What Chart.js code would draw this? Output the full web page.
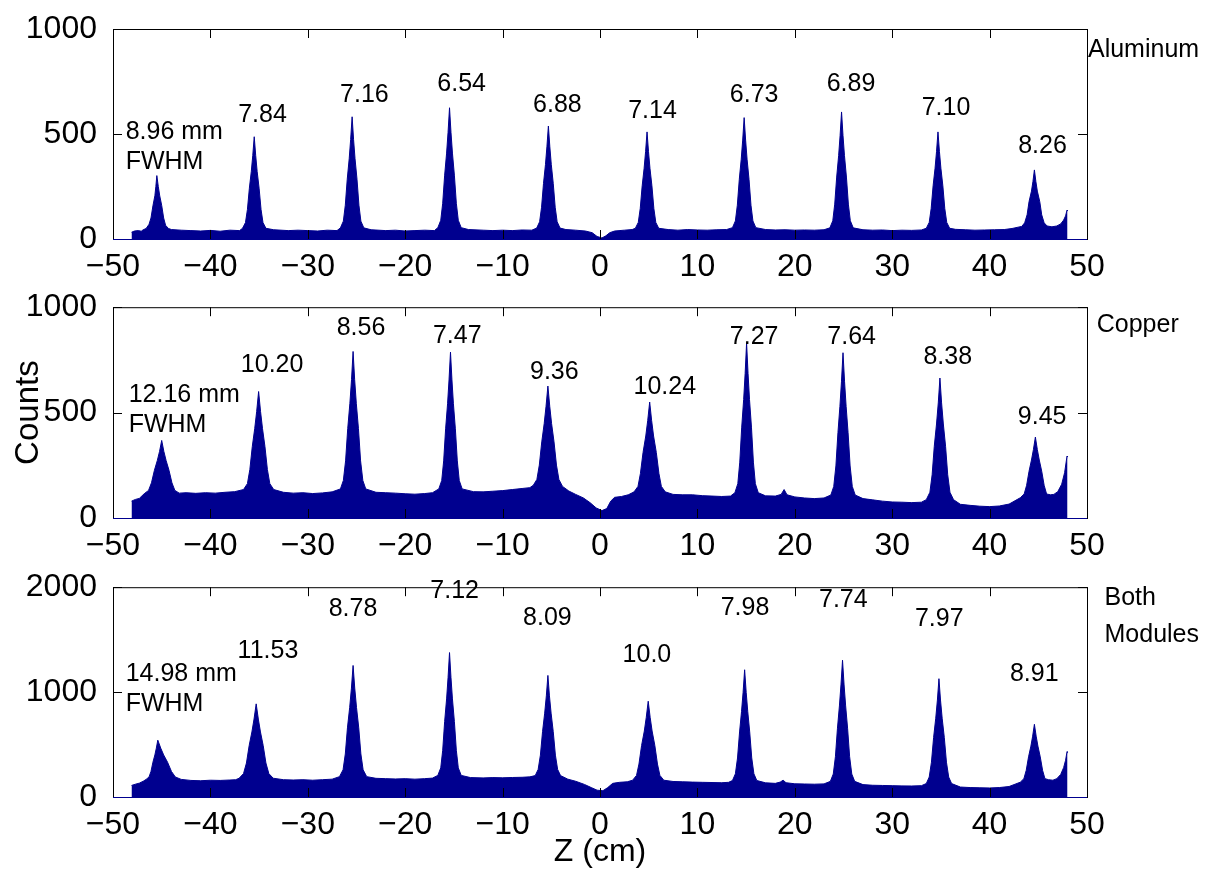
<!DOCTYPE html>
<html>
<head>
<meta charset="utf-8">
<script src="https://cdn.jsdelivr.net/npm/chart.js@4.4.1/dist/chart.umd.min.js"></script>
<style>
  body { margin: 0; background: #fff; width: 1207px; height: 871px; position: relative; overflow: hidden; }
  canvas { position: absolute; left: 0; }
</style>
</head>
<body>
<canvas id="al" width="1207" height="280" style="top:0px"></canvas>
<canvas id="cu" width="1207" height="280" style="top:280px"></canvas>
<canvas id="both" width="1207" height="311" style="top:560px"></canvas>
<script>
// ==========================
// DATA
// ==========================

// Aluminum: z position (cm) and counts
const alZ = [
  -48.1,-47.8,-47.4,-47.1,-46.9,-46.6,-46.3,-46.1,-45.9,-45.7,-45.6,-45.5,-45.35,-45.2,-45.0,-44.8,-44.6,-44.3,-44.0,
  -43,-42,-41,-40,-39,-38,-37,
  -36.7,-36.4,-36.2,-36.0,-35.8,-35.65,-35.5,-35.35,-35.2,-35.0,-34.8,-34.6,-34.3,
  -33.5,-32,-31,-30,-29,-28,-27,
  -26.65,-26.35,-26.15,-25.95,-25.75,-25.6,-25.45,-25.3,-25.15,-24.95,-24.75,-24.55,-24.25,
  -23.5,-22,-21,-20,-19,-18,-17,
  -16.65,-16.35,-16.15,-15.95,-15.75,-15.6,-15.45,-15.3,-15.15,-14.95,-14.75,-14.55,-14.25,
  -13.5,-12,-11,-10,-9,-8,-7,
  -6.5,-6.2,-6.0,-5.8,-5.6,-5.45,-5.3,-5.15,-5.0,-4.8,-4.6,-4.4,-4.1,
  -3.5,-2.5,-1.5,-0.8,-0.3,0.2,0.6,1,1.5,2.5,3.3,
  3.63,3.93,4.13,4.33,4.53,4.68,4.83,4.98,5.13,5.33,5.53,5.73,6.03,
  7,8,9,10,11,12,13,
  13.6,13.9,14.1,14.3,14.5,14.65,14.8,14.95,15.1,15.3,15.5,15.7,16.0,
  17,18,19,20,21,22,23,
  23.6,23.9,24.1,24.3,24.5,24.65,24.8,24.95,25.1,25.3,25.5,25.7,26.0,
  27,28,29,30,31,32,33,
  33.5,33.8,34.0,34.2,34.4,34.55,34.7,34.85,35.0,35.2,35.4,35.6,35.9,
  36.5,37.5,38.5,39.5,40.5,41.5,42.3,
  43.3,43.6,43.85,44.05,44.3,44.45,44.6,44.75,44.9,45.15,45.35,45.6,45.9,
  46.4,46.9,47.3,47.6,47.8,47.95,48.0];
const alCounts = [
  32,38,40,37,44,50,70,100,158,206,250,302,250,205,160,100,65,50,45,
  42,40,38,41,37,42,40,
  51,78,140,242,322,398,487,398,322,242,140,78,51,
  44,40,42,40,38,42,40,
  53,85,161,285,382,474,582,474,382,285,161,85,53,
  44,40,42,38,40,42,40,
  54,89,170,304,409,508,625,508,409,304,170,89,54,
  45,42,40,42,40,43,42,
  52,82,151,265,354,439,538,439,354,265,151,82,52,
  45,42,38,30,12,5,15,30,38,42,45,
  51,79,145,253,337,416,510,416,337,253,145,79,51,
  45,42,45,43,42,44,45,
  54,86,161,284,380,471,578,471,380,284,161,86,54,
  45,43,44,42,43,42,44,
  53,87,166,295,397,492,605,492,397,295,166,87,53,
  44,42,43,40,42,41,43,
  51,79,145,253,337,416,510,416,337,253,145,79,51,
  46,44,42,43,44,45,50,
  60,77,115,178,228,274,329,274,228,178,115,77,62,
  58,62,72,90,110,138,135];

// Copper
const cuZ = [
  -48.1,-47.7,-47.3,-46.8,-46.35,-46.05,-45.75,-45.45,-45.22,-45.0,-44.78,-44.55,-44.25,-43.95,-43.65,-43.2,
  -42.5,-41.5,-40.5,-39.5,-38.5,-37.5,
  -36.6,-36.2,-35.95,-35.7,-35.45,-35.25,-35.05,-34.85,-34.65,-34.4,-34.15,-33.9,-33.5,
  -32.5,-31.5,-30.5,-29.5,-28.5,-27.5,
  -26.65,-26.35,-26.12,-25.9,-25.68,-25.51,-25.35,-25.19,-25.02,-24.8,-24.58,-24.35,-24.05,
  -23,-22,-21,-20,-19,-18,-17.2,
  -16.55,-16.25,-16.05,-15.85,-15.65,-15.5,-15.35,-15.2,-15.05,-14.85,-14.65,-14.45,-14.15,
  -13,-12,-11,-10,-9,-8,-7.2,
  -6.85,-6.48,-6.23,-5.98,-5.73,-5.54,-5.35,-5.16,-4.97,-4.72,-4.47,-4.22,-3.85,
  -3.2,-2.5,-1.7,-1,-0.4,0.2,0.7,1.1,1.5,2.2,2.9,
  3.5,3.9,4.15,4.42,4.7,4.9,5.1,5.3,5.5,5.78,6.05,6.3,6.7,
  7.5,8.5,9.5,10.5,11.5,12.5,13.4,
  13.85,14.15,14.35,14.55,14.75,14.9,15.05,15.2,15.35,15.55,15.75,15.95,16.25,
  17,18,18.6,18.9,19.2,20,21,22,23,
  23.7,24.0,24.22,24.43,24.63,24.79,24.95,25.11,25.27,25.47,25.68,25.9,26.2,
  27,28,29,30,31,32,33,
  33.5,33.87,34.1,34.32,34.55,34.73,34.9,35.07,35.25,35.48,35.7,35.93,36.3,
  37,38,39,40,41,42,
  43.15,43.55,43.8,44.05,44.3,44.5,44.7,44.9,45.1,45.35,45.6,45.85,46.25,
  46.6,47.0,47.4,47.7,47.95,48.0];
const cuCounts = [
  80,88,93,115,131,167,226,273,316,368,316,273,226,167,131,118,
  120,117,120,118,122,125,
  135,163,230,339,424,505,600,505,424,339,230,163,135,
  122,118,120,116,119,124,
  138,178,271,424,544,657,790,657,544,424,271,178,138,
  122,120,118,115,113,116,120,
  138,178,271,423,542,655,787,655,542,423,271,178,138,
  125,124,127,130,135,140,144,
  155,183,251,361,448,530,626,530,448,361,251,183,150,
  128,112,95,72,48,35,45,80,98,102,110,
  124,150,211,311,389,463,550,463,389,311,211,150,124,
  112,110,110,106,104,102,104,
  120,163,265,431,562,685,830,685,562,431,265,163,120,
  105,104,112,135,110,100,95,92,95,
  109,150,247,405,529,646,784,646,529,405,247,150,109,
  92,86,80,76,75,73,75,
  87,122,205,340,446,546,664,546,446,340,205,122,87,
  65,60,56,54,57,66,
  96,114,155,222,275,325,384,325,275,222,155,114,110,
  112,125,160,215,294,290];

// Both modules
const bothZ = [
  -48.1,-47.7,-47.3,-46.9,-46.6,-46.3,-46.1,-45.9,-45.7,-45.55,-45.4,-45.1,-44.8,-44.4,-44.0,-43.6,-43.0,
  -42,-41,-40,-39,-38,-37.4,
  -37.05,-36.6,-36.3,-36.02,-35.74,-35.52,-35.3,-35.08,-34.86,-34.58,-34.3,-34.0,-33.55,
  -32.5,-31.5,-30.5,-29.5,-28.5,-27.5,
  -26.75,-26.38,-26.15,-25.93,-25.7,-25.52,-25.35,-25.18,-25.0,-24.77,-24.55,-24.32,-23.95,
  -23,-22,-21,-20,-19,-18,-17.2,
  -16.65,-16.35,-16.15,-15.95,-15.75,-15.6,-15.45,-15.3,-15.15,-14.95,-14.75,-14.55,-14.25,
  -13.3,-12,-11,-10,-9,-8,-7.2,
  -6.65,-6.35,-6.12,-5.9,-5.68,-5.51,-5.35,-5.19,-5.02,-4.8,-4.58,-4.35,-4.05,
  -3.3,-2.5,-1.6,-0.9,-0.3,0.3,0.8,1.3,2,2.8,
  3.35,3.75,4.0,4.27,4.55,4.75,4.95,5.15,5.35,5.63,5.9,6.15,6.55,
  7.5,8.5,9.5,10.5,11.5,12.5,13.2,
  13.6,13.9,14.12,14.33,14.53,14.69,14.85,15.01,15.17,15.37,15.58,15.8,16.1,
  17,18,18.5,18.8,19.1,20,21,22,23,
  23.65,23.95,24.17,24.38,24.58,24.74,24.9,25.06,25.22,25.42,25.63,25.85,26.15,
  27,28,29,30,31,32,33,
  33.5,33.8,34.03,34.25,34.47,34.64,34.8,34.96,35.13,35.35,35.57,35.8,36.1,
  37,38,39,40,41,42,
  43.15,43.52,43.76,44.0,44.24,44.42,44.6,44.78,44.96,45.2,45.44,45.68,46.05,
  46.5,46.9,47.3,47.6,47.8,47.95,48.0];
const bothCounts = [
  110,122,132,150,168,191,244,332,401,466,542,466,401,332,244,191,168,
  158,155,160,158,162,165,
  179,223,324,490,620,743,888,743,620,490,324,223,179,
  165,162,165,160,165,170,
  194,259,410,659,854,1038,1254,1038,854,659,410,259,194,
  178,175,172,175,170,175,180,
  206,278,445,720,935,1138,1377,1138,935,720,445,278,206,
  185,182,185,183,186,188,192,
  204,263,399,623,799,964,1159,964,799,623,399,263,204,
  170,150,120,90,65,60,90,130,140,145,
  160,206,314,491,629,759,913,759,629,491,314,206,160,
  148,145,142,140,138,136,140,
  157,221,372,620,814,997,1213,997,814,620,372,221,157,
  135,130,142,160,136,126,124,122,125,
  149,219,384,656,868,1068,1304,1068,868,656,384,219,149,
  118,112,110,108,106,105,108,
  128,190,332,567,751,924,1128,924,751,567,332,190,128,
  95,90,88,86,90,100,
  141,175,254,383,485,580,693,580,485,383,254,175,165,
  160,175,215,280,350,432,425];

// Peak FWHM labels (mm): text, centre z (cm), baseline height (counts)
const alPeakText = ['7.84','7.16','6.54','6.88','7.14','6.73','6.89','7.10','8.26'];
const alPeakZ = [-34.65,-24.19,-14.2,-4.37,5.39,15.83,25.77,35.52,45.43];
const alPeakY = [556,651,705,606,578,654,705,590,408];

const cuPeakText = ['10.20','8.56','7.47','9.36','10.24','7.27','7.64','8.38','9.45'];
const cuPeakZ = [-33.66,-24.54,-14.66,-4.69,6.65,15.83,25.84,35.7,45.4];
const cuPeakY = [692,866,829,661,590,827,827,732,447];

const bothPeakText = ['11.53','8.78','7.12','8.09','10.0','7.98','7.74','7.97','8.91'];
const bothPeakZ = [-34.09,-25.36,-14.92,-5.4,4.82,14.89,24.98,34.83,44.58];
const bothPeakY = [1323,1726,1899,1638,1291,1733,1811,1632,1102];

// First-peak notes (left aligned) and panel names (right of the box)
const alNote = ['8.96 mm','FWHM'];
const cuNote = ['12.16 mm','FWHM'];
const bothNote = ['14.98 mm','FWHM'];
const alNoteY = [475,333];
const cuNoteY = [550,408];
const bothNoteY = [1102,819];

const alName = ['Aluminum'];
const cuName = ['Copper'];
const bothName = ['Both','Modules'];
const alNameY = [868];
const cuNameY = [881];
const bothNameY = [1830,1480];

// ==========================
// STYLE
// ==========================

const FONT = '"Liberation Sans", Arial, Helvetica, sans-serif';
const NAVY = '#00008F';

function minusLabel(v){
  return v < 0 ? '\u2212' + Math.abs(v) : String(v);
}

// box, inside tick marks and text labels
function makeBoxPlugin(p){
  return {
    id: 'box',
    afterDraw(chart){
      const ctx = chart.ctx;
      const a = chart.chartArea;
      const x = chart.scales.x;
      const y = chart.scales.y;

      ctx.save();
      ctx.strokeStyle = '#000';
      ctx.lineWidth = 1;
      ctx.strokeRect(a.left + 0.5, a.top + 0.5, a.right - a.left, a.bottom - a.top);

      ctx.beginPath();
      x.ticks.forEach(t => {
        const px = Math.round(x.getPixelForValue(t.value)) + 0.5;
        ctx.moveTo(px, a.top); ctx.lineTo(px, a.top + 9);
        ctx.moveTo(px, a.bottom); ctx.lineTo(px, a.bottom - 9);
      });
      y.ticks.forEach(t => {
        const py = Math.round(y.getPixelForValue(t.value)) + 0.5;
        ctx.moveTo(a.left, py); ctx.lineTo(a.left + 9, py);
        ctx.moveTo(a.right, py); ctx.lineTo(a.right - 9, py);
      });
      ctx.stroke();

      // zero line in histogram colour
      ctx.strokeStyle = NAVY;
      ctx.beginPath();
      ctx.moveTo(a.left, Math.round(a.bottom) + 0.5);
      ctx.lineTo(a.right, Math.round(a.bottom) + 0.5);
      ctx.stroke();

      ctx.fillStyle = '#000';
      ctx.font = '25px ' + FONT;
      ctx.textBaseline = 'alphabetic';

      ctx.textAlign = 'center';
      p.peakText.forEach((s, i) => {
        ctx.fillText(s, x.getPixelForValue(p.peakZ[i]), y.getPixelForValue(p.peakY[i]));
      });

      ctx.textAlign = 'left';
      p.note.forEach((s, i) => {
        ctx.fillText(s, x.getPixelForValue(p.noteZ), y.getPixelForValue(p.noteY[i]));
      });
      p.name.forEach((s, i) => {
        ctx.fillText(s, x.getPixelForValue(p.nameZ), y.getPixelForValue(p.nameY[i]));
      });
      ctx.restore();
    }
  };
}

function makePanel(id, z, counts, yMax, yStep, topPad, axisHeight, extra){
  const canvas = document.getElementById(id);
  const points = z.map((v, i) => ({ x: v, y: counts[i] }));

  return new Chart(canvas, {
    type: 'line',
    data: {
      datasets: [{
        data: points,
        borderColor: NAVY,
        backgroundColor: NAVY,
        borderWidth: 1,
        pointRadius: 0,
        tension: 0,
        fill: 'origin'
      }]
    },
    options: {
      responsive: false,
      animation: false,
      events: [],
      layout: { padding: { top: topPad, right: 120, bottom: 0, left: 0 } },
      plugins: { legend: { display: false }, tooltip: { enabled: false } },
      scales: {
        x: {
          type: 'linear',
          min: -50, max: 50,
          grid: { display: false },
          border: { display: false },
          ticks: {
            stepSize: 10, autoSkip: false, maxRotation: 0, padding: 1,
            color: '#000', font: { family: FONT, size: 32 },
            callback: minusLabel
          },
          title: extra.xTitle ? {
            display: true, text: extra.xTitle, color: '#000',
            font: { family: FONT, size: 32 }, padding: { top: 0, bottom: 0 }
          } : { display: false },
          afterFit(scale){ scale.height = axisHeight; }
        },
        y: {
          min: 0, max: yMax,
          grid: { display: false },
          border: { display: false },
          ticks: {
            stepSize: yStep, padding: 8,
            color: '#000', font: { family: FONT, size: 32 },
            callback: v => String(v)
          },
          title: extra.yTitle ? {
            display: true, text: extra.yTitle, color: '#000',
            font: { family: FONT, size: 33 }, padding: { top: 9, bottom: 0 }
          } : { display: false },
          afterFit(scale){ scale.width = 113; }
        }
      }
    },
    plugins: [makeBoxPlugin(extra)]
  });
}

// ==========================
// INIT
// ==========================

makePanel('al', alZ, alCounts, 1000, 500, 29, 41, {
  peakText: alPeakText, peakZ: alPeakZ, peakY: alPeakY,
  note: alNote, noteZ: -48.7, noteY: alNoteY,
  name: alName, nameZ: 50.1, nameY: alNameY
});

makePanel('cu', cuZ, cuCounts, 1000, 500, 27, 42, {
  peakText: cuPeakText, peakZ: cuPeakZ, peakY: cuPeakY,
  note: cuNote, noteZ: -48.39, noteY: cuNoteY,
  name: cuName, nameZ: 51.0, nameY: cuNameY,
  yTitle: 'Counts'
});

makePanel('both', bothZ, bothCounts, 2000, 1000, 25, 74, {
  peakText: bothPeakText, peakZ: bothPeakZ, peakY: bothPeakY,
  note: bothNote, noteZ: -48.7, noteY: bothNoteY,
  name: bothName, nameZ: 51.8, nameY: bothNameY,
  xTitle: 'Z (cm)'
});
</script>
</body>
</html>
